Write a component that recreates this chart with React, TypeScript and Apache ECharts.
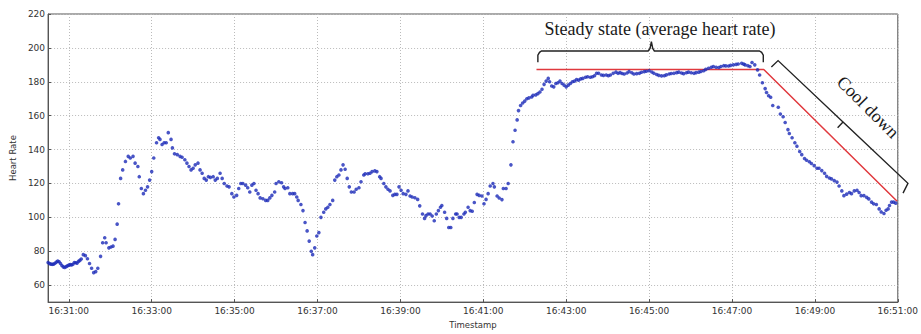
import React, { useEffect, useRef } from "react";
import * as echarts from "echarts";

// Seconds since 16:30:00
const timeSec: number[] = [
  30, 32, 34, 36, 38, 40, 42, 44, 46, 48, 50, 52, 54, 56, 58, 60, 62, 64, 66, 68, 70, 72, 74, 76, 78,
  81, 84, 87, 90, 93, 96, 99, 102, 106, 109, 112, 114, 118, 121, 124, 127, 130, 132, 135, 138, 142,
  146, 149, 153, 156, 160, 162, 165, 168, 171, 174, 177, 180, 183, 187, 190, 192, 195, 198, 201, 204,
  208, 210, 213, 217, 221, 224, 228, 231, 234, 237, 240, 243, 247, 250, 253, 256, 259, 262, 265, 269,
  272, 275, 279, 282, 285, 289, 292, 296, 299, 303, 306, 309, 312, 316, 319, 322, 325, 328, 331, 334,
  337, 341, 345, 348, 351, 354, 358, 360, 364, 368, 371, 373, 377, 380, 384, 387, 390, 392, 396, 399,
  402, 405, 408, 411, 413, 416, 419, 422, 425,
  429, 432, 435, 438, 442, 445, 448, 451, 454, 457, 460, 463, 466, 469, 473, 476, 480, 483, 487, 489,
  493, 496, 499, 503, 506, 510, 512, 516, 519, 522, 525, 529, 532, 535, 538, 541, 544, 548, 551, 554,
  557, 561, 565, 568, 572, 575, 577, 580, 583, 586, 589, 592, 595, 598, 600, 604, 607, 610, 613, 616,
  620, 622, 625, 628, 632, 634, 638, 641, 644, 647, 651, 654, 658, 661, 664, 667, 670, 674, 676, 680,
  683, 687, 689, 693, 696, 700, 703, 706, 709, 711, 714, 717, 720, 723, 726, 730, 732, 736, 739, 742,
  745, 748, 751, 754, 756, 759, 762, 765, 768, 771, 774, 777, 780, 783, 786, 789, 792, 795, 798, 801,
  804, 808, 811, 815, 818, 821, 824, 827, 831, 834, 838, 841, 844, 848, 852, 855,
  858, 861, 864, 868, 871, 875, 878, 882, 886, 889, 893, 896, 900, 904, 907, 911, 914, 918, 922, 925,
  929, 932, 936, 940, 943, 947, 950, 954, 957, 961, 965, 968, 972, 975, 979, 982, 986, 990, 993, 997,
  1001, 1004, 1008, 1011, 1015, 1018, 1022, 1026, 1029, 1034, 1037, 1039, 1043, 1046, 1049, 1053,
  1057, 1060, 1064, 1068, 1070, 1073, 1076, 1079, 1087, 1090, 1094, 1097, 1101, 1103, 1107, 1111,
  1114, 1118, 1121, 1125, 1128, 1132, 1135, 1139, 1143, 1146, 1150, 1154, 1157, 1161, 1164, 1168,
  1172, 1175, 1179, 1182, 1186, 1190, 1193, 1197, 1201, 1204, 1207, 1211, 1215, 1218, 1222, 1225,
  1229, 1233, 1236, 1240, 1243, 1246, 1248, 1251, 1254, 1257,
];

const heartRate: number[] = [
  73.4, 72.8, 72.4, 72.3, 72.4, 72.9, 73.6, 74.2, 73.8, 72.8, 71.6, 70.8, 70.4, 70.9, 71.4, 71.8, 72.1,
  72.0, 72.3, 73.4, 73.2, 73.0, 74.0, 74.6, 75.4,
  78.0, 77.4, 75.6, 72.8, 70.0, 67.4, 68.0, 70.0, 77.0, 85.0, 88.0, 85.0, 82.0, 82.5, 83.0, 87.0, 96.0,
  108.0, 123.0, 128.0, 133.0, 136.0, 135.0, 136.0, 132.0, 130.0, 124.0, 117.0, 114.0, 116.0, 118.0,
  122.0, 127.0, 135.0, 144.0, 147.0, 146.0, 143.0, 144.0, 144.0, 150.0, 146.0, 141.0, 137.5, 137.0,
  136.0, 135.5, 134.0, 132.0, 130.0, 128.0, 129.0, 131.0, 132.0, 128.0, 126.0, 123.0, 122.0, 124.0,
  123.6, 124.0, 122.0, 123.0, 126.0, 123.0, 120.0, 118.5, 118.0, 114.0, 112.0, 113.0, 117.0, 120.0,
  120.0, 119.0, 117.5, 115.0, 119.0, 120.0, 116.0, 114.0, 111.5, 111.0, 110.0, 110.0, 111.5, 113.0,
  115.0, 120.0, 121.0, 120.4, 118.0, 117.0, 117.5, 114.0, 114.0, 114.0, 112.0, 110.0, 107.6, 104.0,
  97.0, 92.0, 86.0, 80.0, 78.0, 82.0, 89.0, 91.0, 100.0,
  103, 105, 106, 107.6, 110, 122, 124, 125, 128, 131, 128.4, 123, 118, 115, 115, 116.6, 117.5, 121,
  125, 125.7, 125.7, 126, 127, 127.4, 127, 124, 123, 120, 118, 116.6, 115.6, 113, 113.6, 113.6, 118,
  116, 114, 113.6, 115.6, 112.6, 112, 111.6, 110.6, 106.8, 102, 99.4, 101, 102, 102, 100.8, 98, 102,
  104, 106, 107, 103, 99.4, 94, 94, 99.4, 102, 102, 100, 100, 102, 103, 106, 104, 103.6, 108.8, 113.6,
  113, 112.6, 108, 110.6, 114, 118.5, 120, 118, 112.6, 111.4, 110.5, 117, 117, 120, 131, 144.6, 151.4,
  157.5, 163, 166, 167.5, 168.6, 170, 170.5, 171, 172, 172.3, 173, 174, 175.6, 178.5, 180.4, 182, 180,
  177.5, 177, 179, 179.4, 180.4, 179, 178, 177, 178, 179, 180, 180.4, 181.3, 181, 181.7, 182, 182.7,
  183, 182.7, 183, 183.6, 185, 185, 184, 183.8, 184, 183.6, 184, 185, 185.7, 185,
  185.4, 184.9, 184.6, 185.2, 186, 185.3, 184.6, 184.8, 185, 185.6, 186, 186.2, 186.5, 185.8, 185,
  184.3, 183.8, 183.5, 183.6, 184.1, 184.6, 184.9, 185, 185.4, 185.7, 185.2, 184.8, 185.3, 185.7,
  185.3, 185, 185.4, 185.7, 186.1, 186.5, 187.3, 188, 188.6, 189, 188.6, 188.4, 189, 189.5, 189.4,
  189.3, 189.7, 190, 190.3, 190.5, 190.9, 190.4, 190, 189.5, 189, 191.4, 190, 187, 184, 179.4, 176,
  173.7, 171.8, 170.9, 166, 165, 161, 159.4, 156, 151.8, 149.5, 147, 144, 142, 138.9, 137, 134.7,
  133.7, 132.8, 131.8, 130.5, 129, 129, 127.6, 126, 124.2, 123.2, 122.7, 121.7, 120.8, 118.5, 115.6,
  112.8, 113.7, 114.7, 114, 115.6, 116, 114.7, 112.8, 112.8, 111.8, 110.9, 109, 108, 107.6, 105,
  103.2, 102.3, 104.2, 105, 107, 109, 109, 108.4,
];

// Red "average" / cool-down reference line
const avgLineTimes: number[] = [737, 1066, 1259];
const avgLineValues: number[] = [187.2, 187.2, 109.5];

// Curly brace over the steady-state section
const steadyBraceTimes: number[] = [739, 739, 741.4, 744.3, 898.6, 901.4, 903.3, 905.3, 907.6, 1059.6, 1062.9, 1065.3, 1065.3];
const steadyBraceValues: number[] = [191.5, 195.7, 197.4, 198.2, 198.2, 199.7, 203.7, 199.7, 198.2, 198.2, 197.4, 195.7, 191.5];

// Bracket along the cool-down section
const coolBraceTimes: number[] = [1077, 1086.7, 1180.7, 1172.9, 1180.7, 1274.7, 1267.6];
const coolBraceValues: number[] = [188.7, 192.5, 156.3, 152.9, 156.3, 120.1, 114.3];

const xTickValues: number[] = [60, 180, 300, 420, 540, 660, 780, 900, 1020, 1140, 1260];
const yTickValues: number[] = [60, 80, 100, 120, 140, 160, 180, 200, 220];

const fmtTime = (s: number) => {
  const m = 30 + Math.floor(s / 60);
  const sec = Math.round(s % 60);
  return `16:${String(m).padStart(2, "0")}:${String(sec).padStart(2, "0")}`;
};

const zip = (a: number[], b: number[]) => a.map((v, i) => [v, b[i]]);

export default function App() {
  const ref = useRef<HTMLDivElement>(null);
  useEffect(() => {
    if (!ref.current) return;
    const chart = echarts.init(ref.current, null, { renderer: "svg" });
    const labelFont = { fontFamily: "DejaVu Sans", fontSize: 9, color: "#333" };
    const gridLine = { show: true, lineStyle: { color: "#bbb", type: [1, 2] as any, width: 1 } };
    chart.setOption({
      animation: false,
      backgroundColor: "#fff",
      grid: { left: 42, right: 18, top: 14, bottom: 23, show: true, borderColor: "#555", borderWidth: 1, backgroundColor: "transparent" },
      xAxis: {
        type: "value",
        min: 30,
        max: 1260,
        name: "Timestamp",
        nameLocation: "middle",
        nameGap: 12,
        nameTextStyle: { fontFamily: "DejaVu Sans", fontSize: 8.5, color: "#333" },
        axisLine: { show: true, lineStyle: { color: "#555" } },
        axisTick: { show: true, inside: true, length: 3, customValues: xTickValues, lineStyle: { color: "#555" } },
        axisLabel: { ...labelFont, margin: 4, customValues: xTickValues, formatter: (v: number) => fmtTime(v) },
        splitLine: gridLine,
      },
      yAxis: {
        type: "value",
        min: 50,
        max: 220,
        name: "Heart Rate",
        nameLocation: "middle",
        nameGap: 28,
        nameTextStyle: { fontFamily: "DejaVu Sans", fontSize: 8.5, color: "#333" },
        axisLine: { show: true, lineStyle: { color: "#555" } },
        axisTick: { show: true, inside: true, length: 3, customValues: yTickValues, lineStyle: { color: "#555" } },
        axisLabel: { ...labelFont, margin: 3, customValues: yTickValues },
        splitLine: gridLine,
      },
      series: [
        {
          type: "line",
          data: zip(avgLineTimes, avgLineValues),
          symbol: "none",
          lineStyle: { color: "#e0393e", width: 1.5 },
          z: 2,
        },
        {
          type: "scatter",
          data: zip(timeSec, heartRate),
          symbol: "circle",
          symbolSize: 3.6,
          itemStyle: { color: "#1b2bb8" },
          z: 3,
        },
      ],
    });

    const toPx = (ts: number[], vs: number[]) =>
      ts.map((t, i) => chart.convertToPixel({ xAxisIndex: 0, yAxisIndex: 0 }, [t, vs[i]]) as number[]);

    chart.setOption({
      graphic: [
        {
          type: "polyline",
          shape: { points: toPx(steadyBraceTimes, steadyBraceValues) },
          style: { stroke: "#222", lineWidth: 1.4, fill: null },
          z: 10,
        },
        {
          type: "polyline",
          shape: { points: toPx(coolBraceTimes, coolBraceValues) },
          style: { stroke: "#222", lineWidth: 1.4, fill: null },
          z: 10,
        },
        {
          type: "text",
          x: 660,
          y: 29,
          style: {
            text: "Steady state (average heart rate)",
            font: '18px "Liberation Serif"',
            fill: "#1a1a1a",
            align: "center",
            verticalAlign: "middle",
          },
        },
        {
          type: "text",
          x: 868,
          y: 107,
          rotation: -Math.PI / 4,
          style: {
            text: "Cool down",
            font: '18px "Liberation Serif"',
            fill: "#1a1a1a",
            align: "center",
            verticalAlign: "middle",
          },
        },
      ],
    });
    return () => chart.dispose();
  }, []);
  return <div ref={ref} style={{ position: "fixed", left: 0, top: 0, width: 921, height: 334 }} />;
}
